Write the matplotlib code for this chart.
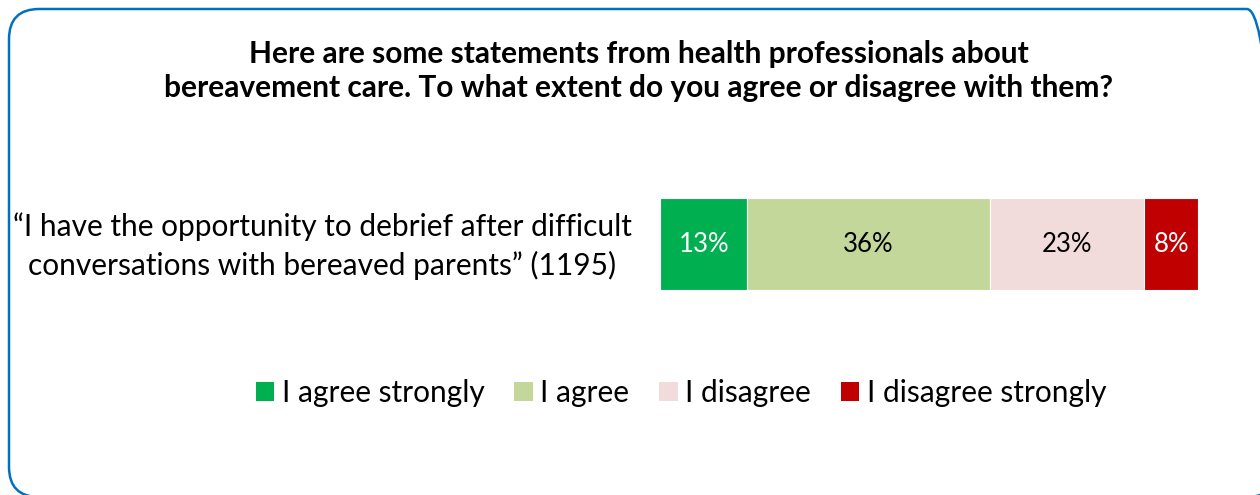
import matplotlib.pyplot as plt
from matplotlib.patches import FancyBboxPatch, Patch

# data
categories = ["I agree strongly", "I agree", "I disagree", "I disagree strongly"]
values = [13, 36, 23, 8]
colors = ["#00B050", "#C4D79B", "#F2DCDB", "#C00000"]
text_colors = ["white", "black", "black", "white"]
statement = "\u201cI have the opportunity to debrief after difficult\nconversations with bereaved parents\u201d (1195)"
title = ("Here are some statements from health professionals about\n"
         "bereavement care. To what extent do you agree or disagree with them?")

plt.rcParams['font.family'] = ['Lato', 'DejaVu Sans']

W, H = 1260, 495
fig = plt.figure(figsize=(W / 100, H / 100), dpi=100)

# rounded blue frame (runs off the right and bottom edges, as in the source)
frame = FancyBboxPatch((9 / W, -2 / H), 1268 / W, 488 / H,
                       boxstyle="round,pad=0,rounding_size=0.024",
                       transform=fig.transFigure, fill=False,
                       edgecolor="#0070C0", linewidth=1.8,
                       mutation_aspect=W / H)
fig.patches.append(frame)

fig.text(639 / W, 1 - 71 / H, title, ha="center", va="center",
         fontsize=21.5, fontweight="bold", linespacing=1.3)

# bar axes (0 at x=660px, 80 at x=1198px)
ax = fig.add_axes([660 / W, 1 - 290 / H, 538 / W, 92 / H])
left = 0
for v, c, tc in zip(values, colors, text_colors):
    ax.barh(0, v, left=left, height=1, color=c, edgecolor="white", linewidth=0.8)
    ax.text(left + v / 2, 0, f"{v}%", ha="center", va="center",
            fontsize=18.5, color=tc)
    left += v
ax.set_xlim(0, sum(values))
ax.set_ylim(-0.5, 0.5)
ax.axis("off")

fig.text(322 / W, 1 - 246 / H, statement, ha="center", va="center",
         fontsize=21.5, linespacing=1.4)

handles = [Patch(facecolor=c, edgecolor="none") for c in colors]
fig.legend(handles, categories, loc="center", bbox_to_anchor=(681 / W, 1 - 393 / H),
           ncol=4, frameon=False, fontsize=21.5, handlelength=0.62,
           handleheight=0.62, handletextpad=0.25, columnspacing=1.0)

fig.savefig("out.png", dpi=100)
